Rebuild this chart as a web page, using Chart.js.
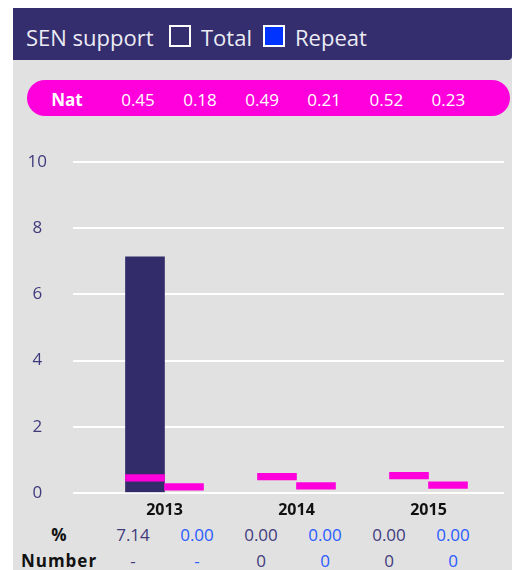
<!DOCTYPE html>
<html lang="en">
<head>
<meta charset="UTF-8">
<title>SEN support</title>
<script src="https://cdn.jsdelivr.net/npm/chart.js"></script>
<style>
body { margin: 0; width: 512px; height: 570px; background: #fff; font-family: "Open Sans", sans-serif; overflow: hidden; position: relative; }
#panel { position: absolute; left: 13px; top: 8px; width: 499px; height: 562px; background: #e1e1e1; }
#head { position: absolute; left: 13px; top: 8px; width: 499px; height: 52px; background: #342d6e; border-bottom-right-radius: 4px; }
.box { position: absolute; top: 25px; width: 18px; height: 18px; border: 2px solid #fff; }
#nat { position: absolute; left: 27px; top: 80px; width: 483px; height: 36px; border-radius: 18px; background: #ff00dc; }
.t { position: absolute; transform: translate(-50%, -50%); white-space: nowrap; font-size: 17px; }
.l { position: absolute; transform: translate(0, -50%); white-space: nowrap; font-size: 22px; color: #ececf4; }
#wrap { position: absolute; left: 13px; top: 126px; width: 499px; height: 403px; }
</style>
</head>
<body>
<div id="panel"></div>
<div id="head"></div>
<div class="l" style="left:26px;top:37px">SEN support</div>
<div class="box" style="left:169px;background:#342d6e"></div>
<div class="l" style="left:201px;top:37px">Total</div>
<div class="box" style="left:263px;background:#0033ff"></div>
<div class="l" style="left:295px;top:37px">Repeat</div>
<div id="nat"></div>
<div id="cells"></div>
<div id="wrap"><canvas id="chart" width="499" height="403"></canvas></div>

<script>
// data
const years = ['2013', '2014', '2015'];
const totalPct = [7.14, 0.00, 0.00];
const repeatPct = [0.00, 0.00, 0.00];
const natTotal = [0.45, 0.49, 0.52];
const natRepeat = [0.18, 0.21, 0.23];
const totalNum = ['-', '0', '0'];
const repeatNum = ['-', '0', '0'];
const yTicks = [0, 2, 4, 6, 8, 10];

const navy = '#332c6b';
const blue = '#2a5bff';
const pink = '#ff00dc';

// text rows (nat pill + table under the chart)
const cells = document.getElementById('cells');
function put(text, x, y, css) {
  const d = document.createElement('div');
  d.className = 't';
  d.style.left = x + 'px';
  d.style.top = y + 'px';
  d.style.cssText += css || '';
  d.textContent = text;
  cells.appendChild(d);
}
put('Nat', 67, 99, 'color:#fff;font-weight:bold');
years.forEach((y, i) => {
  put(natTotal[i].toFixed(2), 138 + 124.2 * i, 99, 'color:#fff');
  put(natRepeat[i].toFixed(2), 200 + 124.2 * i, 99, 'color:#fff');
  put(totalPct[i].toFixed(2), 133 + 128 * i, 534, 'color:#403b7d');
  put(repeatPct[i].toFixed(2), 197 + 128 * i, 534, 'color:' + blue);
  put(totalNum[i], 133 + 128 * i, 560, 'color:#403b7d');
  put(repeatNum[i], 197 + 128 * i, 560, 'color:' + blue);
});
put('%', 59, 534, 'color:#111;font-weight:bold');
put('Number', 59, 560, 'color:#111;font-weight:bold;letter-spacing:1px');

// nat markers as thin floating bars around the value
const half = 0.1;
const band = v => [v - half, v + half];
// zero-height bars leave a hairline, so hide them
const fill = c => ctx => (ctx.raw && ctx.raw.y ? c : 'rgba(0,0,0,0)');

new Chart(document.getElementById('chart'), {
  type: 'bar',
  data: {
    datasets: [
      { label: 'Total', stack: 'total', order: 2, data: years.map((y, i) => ({ x: i, y: totalPct[i] })), backgroundColor: fill(navy) },
      { label: 'Nat total', stack: 'total', order: 1, data: years.map((y, i) => ({ x: i, y: band(natTotal[i]) })), backgroundColor: pink },
      { label: 'Repeat', stack: 'repeat', order: 2, data: years.map((y, i) => ({ x: i, y: repeatPct[i] })), backgroundColor: fill('#0033ff') },
      { label: 'Nat repeat', stack: 'repeat', order: 1, data: years.map((y, i) => ({ x: i, y: band(natRepeat[i]) })), backgroundColor: pink }
    ]
  },
  options: {
    responsive: false,
    animation: false,
    barThickness: 39,
    layout: { padding: { top: 23, right: 8, bottom: 0, left: 0 } },
    plugins: { legend: { display: false }, tooltip: { enabled: false } },
    scales: {
      x: {
        type: 'linear',
        stacked: true,
        offset: false,
        min: -0.693,
        max: 2.572,
        afterFit: s => { s.height = 30; },
        grid: { display: false },
        border: { display: false },
        ticks: {
          stepSize: 1,
          includeBounds: false,
          autoSkip: false,
          maxRotation: 0,
          padding: 0,
          color: '#111',
          font: { family: 'Open Sans', size: 16, weight: 'bold' },
          callback: v => years[v] ?? ''
        }
      },
      y: {
        stacked: false,
        min: 0,
        max: 10,
        afterFit: s => { s.width = 60; },
        afterBuildTicks: s => { s.ticks = yTicks.map(v => ({ value: v })); },
        grid: { color: '#fff', lineWidth: 2, drawTicks: false },
        border: { display: false },
        ticks: {
          crossAlign: 'center',
          padding: 26,
          color: '#3f3a7c',
          font: { family: 'Open Sans', size: 17 }
        }
      }
    }
  }
});
</script>
</body>
</html>
